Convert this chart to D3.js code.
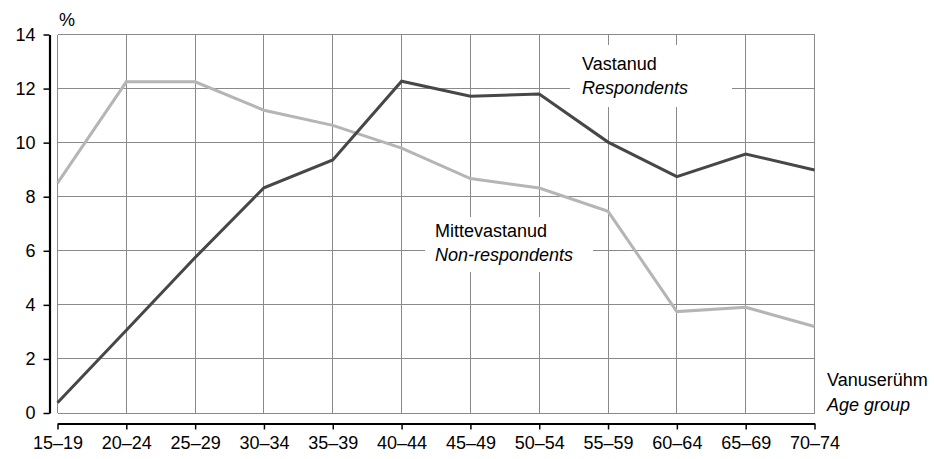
<!DOCTYPE html>
<html>
<head>
<meta charset="utf-8">
<script src="https://cdn.jsdelivr.net/npm/d3@7"></script>
<style>
  html, body { margin: 0; padding: 0; background: #fff; }
  svg { display: block; font-family: "Liberation Sans", Arial, sans-serif; }
</style>
</head>
<body>
<svg id="chart" width="934" height="459"></svg>
<script>
// Age groups (x categories)
const ageGroups = ["15–19","20–24","25–29","30–34","35–39","40–44","45–49","50–54","55–59","60–64","65–69","70–74"];
// Share of each age group, %
const respondents    = [0.38, 3.06, 5.75, 8.33, 9.36, 12.27, 11.72, 11.8, 10.02, 8.74, 9.58, 8.99];
const nonRespondents = [8.5, 12.25, 12.25, 11.2, 10.64, 9.8, 8.67, 8.32, 7.46, 3.75, 3.91, 3.2];
const yTicks = [0, 2, 4, 6, 8, 10, 12, 14];

const svg = d3.select("#chart");
const plotLeft = 57.5, plotRight = 814.5, plotTop = 34.5, plotBottom = 413;

const x = d3.scalePoint().domain(ageGroups).range([plotLeft, plotRight]);
const y = d3.scaleLinear().domain([0, 14]).range([plotBottom, plotTop]);

// Grid
const grid = svg.append("g").attr("stroke", "#8a8a8a").attr("stroke-width", 1).attr("shape-rendering", "crispEdges");
grid.selectAll("line.h").data(yTicks).join("line")
  .attr("x1", plotLeft).attr("x2", plotRight)
  .attr("y1", d => y(d)).attr("y2", d => y(d));
grid.selectAll("line.v").data(ageGroups).join("line")
  .attr("x1", d => x(d)).attr("x2", d => x(d))
  .attr("y1", plotTop).attr("y2", plotBottom);

// Series lines
const line = d3.line().x((d, i) => x(ageGroups[i])).y(d => y(d));
svg.append("path").datum(nonRespondents)
  .attr("fill", "none").attr("stroke", "#b5b5b5").attr("stroke-width", 3)
  .attr("stroke-linejoin", "miter").attr("d", line);
svg.append("path").datum(respondents)
  .attr("fill", "none").attr("stroke", "#474747").attr("stroke-width", 3)
  .attr("stroke-linejoin", "miter").attr("d", line);

// Series labels on white boxes
function seriesLabel(bx, by, bw, bh, tx, ty, l1, l2) {
  const g = svg.append("g");
  g.append("rect").attr("x", bx).attr("y", by).attr("width", bw).attr("height", bh).attr("fill", "#fff");
  g.append("text").attr("x", tx).attr("y", ty).attr("font-size", 18).attr("fill", "#000").text(l1);
  g.append("text").attr("x", tx).attr("y", ty + 24.5).attr("font-size", 18).attr("font-style", "italic").attr("fill", "#000").text(l2);
}
seriesLabel(570, 45, 162, 62, 582, 69.5, "Vastanud", "Respondents");
seriesLabel(425, 217, 168, 55, 435, 236.5, "Mittevastanud", "Non-respondents");

// Y axis
const yAxis = svg.append("g").attr("transform", `translate(49.5,0)`)
  .call(d3.axisLeft(y).tickValues(yTicks).tickSize(6).tickSizeOuter(0).tickPadding(8));
yAxis.select(".domain").attr("stroke", "#000").attr("stroke-width", 2.2);
yAxis.selectAll(".tick line").attr("stroke", "#000").attr("stroke-width", 1.5);
yAxis.selectAll(".tick text").attr("font-size", 18).attr("font-family", "Liberation Sans, Arial, sans-serif").attr("fill", "#000");

// X axis
const xAxis = svg.append("g").attr("transform", `translate(0,423.5)`)
  .call(d3.axisBottom(x).tickSize(6).tickSizeOuter(0).tickPadding(7));
xAxis.select(".domain").attr("stroke", "#000").attr("stroke-width", 2.2);
xAxis.selectAll(".tick line").attr("stroke", "#000").attr("stroke-width", 1.5);
xAxis.selectAll(".tick text").attr("font-size", 18).attr("font-family", "Liberation Sans, Arial, sans-serif").attr("fill", "#000");

// Axis titles
svg.append("text").attr("x", 59).attr("y", 26).attr("font-size", 18).text("%");
svg.append("text").attr("x", 827).attr("y", 386).attr("font-size", 18).text("Vanuserühm");
svg.append("text").attr("x", 827).attr("y", 410.5).attr("font-size", 18).attr("font-style", "italic").text("Age group");
</script>
</body>
</html>
